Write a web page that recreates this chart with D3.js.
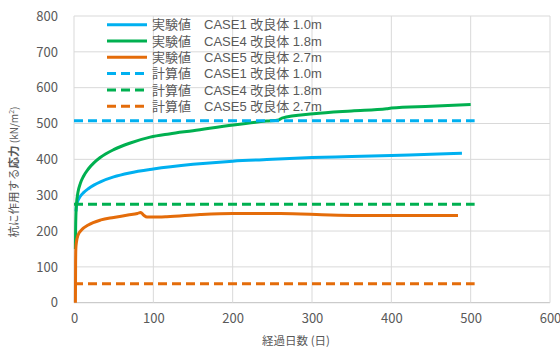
<!DOCTYPE html>
<html><head><meta charset="utf-8">
<script src="https://cdnjs.cloudflare.com/ajax/libs/d3/7.8.5/d3.min.js"></script>
<style>body{margin:0;background:#fff}svg{display:block}</style>
</head><body><svg id="c" width="560" height="351"></svg>
<script>
// ---- data ----
const xTicks = [0,100,200,300,400,500,600];
const yTicks = [0,100,200,300,400,500,600,700,800];
const seriesNames = [
  "実験値\u3000CASE1 改良体 1.0m",
  "実験値\u3000CASE4 改良体 1.8m",
  "実験値\u3000CASE5 改良体 2.7m",
  "計算値\u3000CASE1 改良体 1.0m",
  "計算値\u3000CASE4 改良体 1.8m",
  "計算値\u3000CASE5 改良体 2.7m"
];
const case1Days = [2.5,3,5,8,12,18,25,34,50,70,100,150,200,250,300,350,400,450,489];
const case1Vals = [255,270,285,297,307,318,328,338,351,362,373,386,395,400,405,408,411,414,417];
const case4Days = [1.8,2,2.5,3,5,8,12,18,25,33,50,70,96,120,150,201,243,258,262,302,350,394,400,450,500];
const case4Vals = [150,200,250,272,308,333,353,373,390,405,427,445,462,471,480,496,507,510,515,527,535,541,543,548,553];
const case5Days = [1.8,2,2.3,3,5,10,18,34,50,68,80,84,88,92,100,117,159,200,260,323,386,484];
const case5Vals = [0,100,150,168,188,204,217,231,238,245,249,252,244,239,239,240,246,249,249,245,243,243];
const calcDays = [0,505];
const calcCase1 = 508, calcCase4 = 275, calcCase5 = 53;
const colors = ["#00B0F0","#00B050","#E46C0A","#00B0F0","#00B050","#E46C0A"];

// ---- chart ----
const svg = d3.select("#c");
const x = d3.scaleLinear().domain([0,600]).range([74,550]);
const y = d3.scaleLinear().domain([0,800]).range([302.7,16]);
const txt = "#595959", font = "'Noto Sans CJK JP', 'Noto Sans', sans-serif";
const lfont = "'Liberation Sans', 'Noto Sans CJK JP', sans-serif";

// grid
svg.append("g").selectAll("line").data(yTicks).join("line")
  .attr("x1",x(0)).attr("x2",x(600)).attr("y1",d=>y(d)).attr("y2",d=>y(d))
  .attr("stroke",d=>d===0?"#bfbfbf":"#d9d9d9").attr("stroke-width",1);
svg.append("g").selectAll("line").data(xTicks).join("line")
  .attr("y1",y(0)).attr("y2",y(800)).attr("x1",d=>x(d)).attr("x2",d=>x(d))
  .attr("stroke","#d9d9d9").attr("stroke-width",1);

// axes (labels only)
const yAxis = d3.axisLeft(y).tickValues(yTicks).tickSize(0).tickPadding(16);
const gy = svg.append("g").attr("transform",`translate(${x(0)},0)`).call(yAxis);
const xAxis = d3.axisBottom(x).tickValues(xTicks).tickSize(0).tickPadding(11);
const gx = svg.append("g").attr("transform",`translate(0,${y(0)})`).call(xAxis);
[gx,gy].forEach(g=>{g.select(".domain").remove();
  g.selectAll("text").attr("fill",txt).style("font-family",font).style("font-size","13px");});

// lines
const line = d3.line().x(d=>x(d[0])).y(d=>y(d[1])).curve(d3.curveMonotoneX);
const dline = d3.line().x(d=>x(d[0])).y(d=>y(d[1]));
const exp = [d3.zip(case1Days,case1Vals), d3.zip(case4Days,case4Vals), d3.zip(case5Days,case5Vals)];
const calc = [calcCase1,calcCase4,calcCase5].map(v=>calcDays.map(dd=>[dd,v]));
exp.forEach((s,i)=>svg.append("path").attr("d",line(s)).attr("fill","none")
  .attr("stroke",colors[i]).attr("stroke-width",3).attr("stroke-linejoin","round"));
calc.forEach((s,i)=>svg.append("path").attr("d",dline(s)).attr("fill","none")
  .attr("stroke",colors[i+3]).attr("stroke-width",3).attr("stroke-dasharray","9,5"));

// legend
const lg = svg.append("g");
seriesNames.forEach((n,i)=>{
  const yy = 24.7 + i*16.3;
  lg.append("line").attr("x1",107).attr("x2",147).attr("y1",yy).attr("y2",yy)
    .attr("stroke",colors[i]).attr("stroke-width",3)
    .attr("stroke-dasharray", i>=3 ? "9,5" : null);
  lg.append("text").attr("x",152).attr("y",yy).attr("dy","0.36em")
    .attr("fill",txt).style("font-family",lfont).style("font-size","13px").text(n);
});

// axis titles
svg.append("text").attr("x",296).attr("y",341).attr("dy","0.36em").attr("text-anchor","middle")
  .attr("fill",txt).style("font-family",font).style("font-size","11.5px").text("経過日数 (日)");
const yt = svg.append("text").attr("transform","translate(14,172) rotate(-90)")
  .attr("text-anchor","middle").attr("dy","0.36em")
  .attr("fill",txt).style("font-family",font).style("font-size","11.5px");
yt.append("tspan").text("杭に作用する");
yt.append("tspan").attr("font-weight","bold").text("応力");
yt.append("tspan").style("font-size","10px").text(" (kN/m");
yt.append("tspan").style("font-size","7px").attr("dy","-4").text("2");
yt.append("tspan").style("font-size","10px").attr("dy","4").text(")");
</script></body></html>
